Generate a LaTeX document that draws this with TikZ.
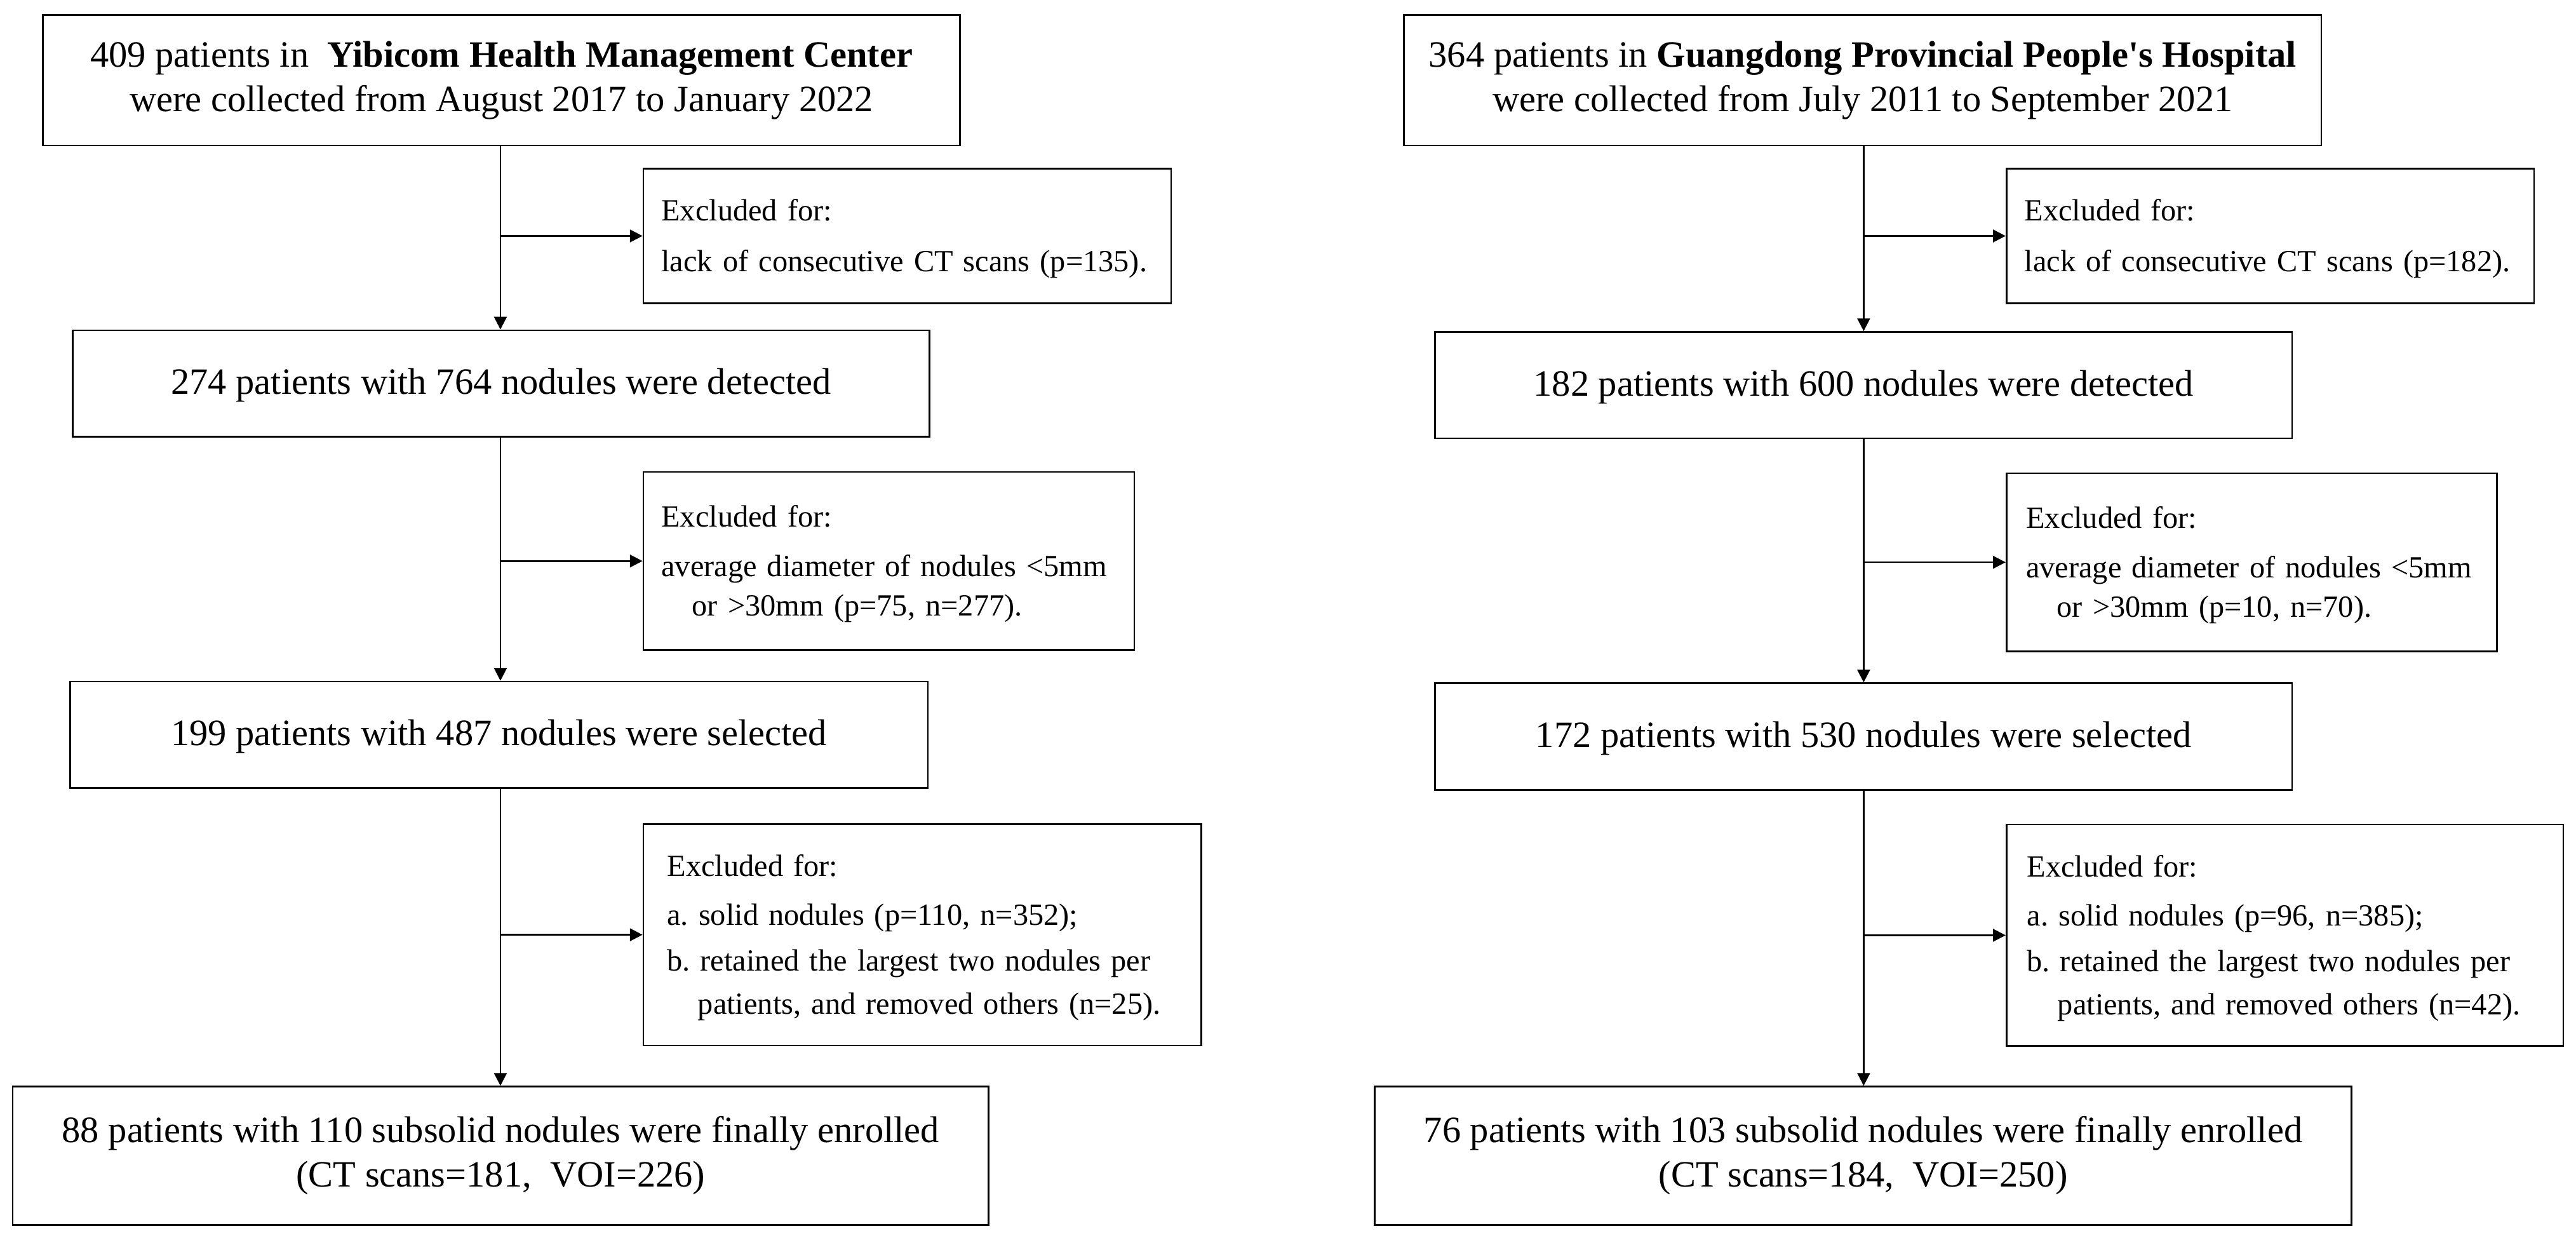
\documentclass[tikz,border=0pt]{standalone}
\usepackage{fontspec}
\setmainfont{Liberation Serif}
\usetikzlibrary{arrows.meta}
\frenchspacing

\tikzset{
  mainbox/.style={draw, line width=1pt, inner sep=0pt, align=center,
    font=\fontsize{22.6pt}{27.1pt}\selectfont,
    execute at begin node={\rule{0pt}{0.8em}}},
  exclbox/.style={draw, line width=1pt, inner ysep=0pt, align=left,
    font=\fontsize{18.7pt}{24pt}\selectfont,
    execute at begin node={\rule{0pt}{0.891em}}},
  flow/.style={line width=1pt, -{Triangle[length=7.7pt,width=7.7pt]}}
}

\begin{document}
\begin{tikzpicture}[x=1pt, y=-1pt]

\useasboundingbox (0,0) rectangle (1568,753.08);

\coordinate (spineL) at (304.6,0);
\coordinate (spineR) at (1134.4,0);

% left column
\node[mainbox, minimum width=558.1pt, minimum height=79.5pt] (L1) at (305.25,48.75)
  {409 patients in~ \textbf{Yibicom Health Management Center}\\were collected from August 2017 to January 2022};
\node[exclbox, inner xsep=11pt, text width=299.3pt, minimum height=81.8pt] (E1L) at (552.25,143.6)
  {Excluded for:\\[7pt]lack of consecutive CT scans (p=135).};
\node[mainbox, minimum width=521.6pt, minimum height=64.8pt] (L2) at (305,233.4)
  {274 patients with 764 nodules were detected};
\node[exclbox, inner xsep=11pt, text width=276.8pt, minimum height=108.3pt] (E2L) at (541,341.45)
  {Excluded for:\\[6pt]average diameter of nodules <5mm\\\hspace*{1em}or >30mm (p=75, n=277).};
\node[mainbox, minimum width=522.1pt, minimum height=64.8pt] (L3) at (303.75,447.2)
  {199 patients with 487 nodules were selected};
\node[exclbox, inner xsep=14.5pt, text width=310.7pt, minimum height=134.8pt] (E3L) at (561.45,568.9)
  {Excluded for:\\[6pt]a. solid nodules (p=110, n=352);\\[3.7pt]b. retained the largest two nodules per\\[2.4pt]\hspace*{1em}patients, and removed others (n=25).};
\node[mainbox, minimum width=594.1pt, minimum height=84.2pt] (L4) at (304.75,703.4)
  {88 patients with 110 subsolid nodules were finally enrolled\\(CT scans=181,~ VOI=226)};

% right column
\node[mainbox, minimum width=558.4pt, minimum height=79.5pt] (R1) at (1133.8,48.75)
  {364 patients in \textbf{Guangdong Provincial People\textquotesingle s Hospital}\\were collected from July 2011 to September 2021};
\node[exclbox, inner xsep=11pt, text width=299.1pt, minimum height=81.8pt] (E1R) at (1381.85,143.6)
  {Excluded for:\\[7pt]lack of consecutive CT scans (p=182).};
\node[mainbox, minimum width=521.8pt, minimum height=64.8pt] (R2) at (1134.3,234.4)
  {182 patients with 600 nodules were detected};
\node[exclbox, inner xsep=12pt, text width=274.5pt, minimum height=108.3pt] (E2R) at (1370.55,342.2)
  {Excluded for:\\[6pt]average diameter of nodules <5mm\\\hspace*{1em}or >30mm (p=10, n=70).};
\node[mainbox, minimum width=521.8pt, minimum height=64.8pt] (R3) at (1134.3,448.2)
  {172 patients with 530 nodules were selected};
\node[exclbox, inner xsep=12.5pt, text width=313.9pt, minimum height=134.8pt] (E3R) at (1390.75,569.2)
  {Excluded for:\\[6pt]a. solid nodules (p=96, n=385);\\[3.7pt]b. retained the largest two nodules per\\[2.4pt]\hspace*{1em}patients, and removed others (n=42).};
\node[mainbox, minimum width=594.7pt, minimum height=84.2pt] (R4) at (1134.05,703.4)
  {76 patients with 103 subsolid nodules were finally enrolled\\(CT scans=184,~ VOI=250)};

\foreach \a/\b in {L1/L2, L2/L3, L3/L4}
  \draw[flow] (\a.south -| spineL) -- (\b.north -| spineL);
\foreach \a/\b in {R1/R2, R2/R3, R3/R4}
  \draw[flow] (\a.south -| spineR) -- (\b.north -| spineR);

\foreach \e in {E1L, E2L, E3L}
  \draw[flow] (\e.west -| spineL) -- (\e.west);
\foreach \e in {E1R, E2R, E3R}
  \draw[flow] (\e.west -| spineR) -- (\e.west);

\end{tikzpicture}
\end{document}
